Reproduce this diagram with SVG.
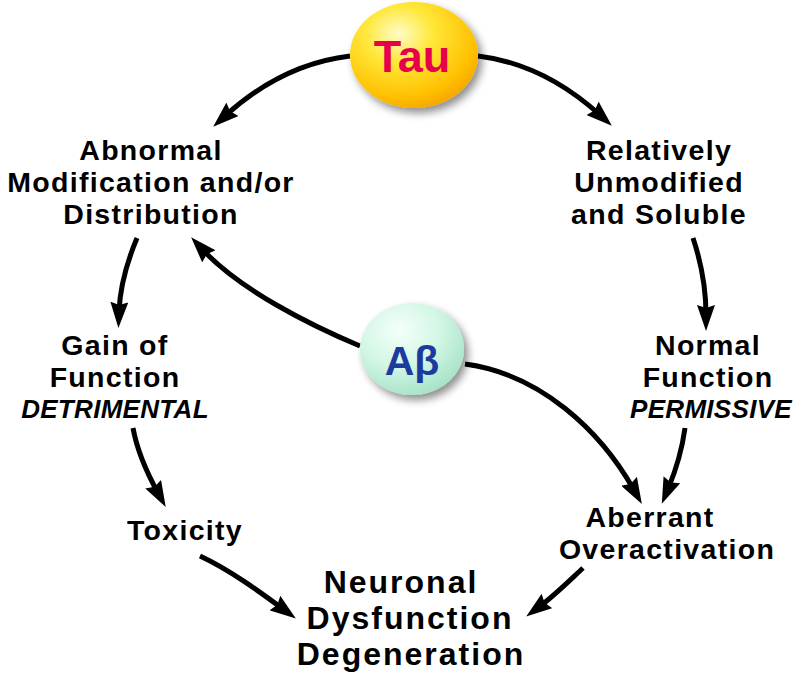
<svg xmlns="http://www.w3.org/2000/svg" width="800" height="674" viewBox="0 0 800 674">
<style>
.lbl{font-family:"Liberation Sans",Arial,sans-serif;font-weight:bold;font-size:28.5px;letter-spacing:1.3px;fill:#000;text-anchor:middle}
.it{font-style:italic;font-size:26px;letter-spacing:0.3px}
.big{font-size:32px;letter-spacing:2px}
.conn path{fill:none;stroke:#000;stroke-width:5;marker-end:url(#ah)}
</style>
<defs>
<marker id="ah" viewBox="0 0 26 18" markerUnits="userSpaceOnUse" markerWidth="26" markerHeight="18" refX="10" refY="9" orient="auto">
<path d="M0,0 L26,9 L0,18 L3,9 z" fill="#000"/>
</marker>
<radialGradient id="gTau" cx="0.38" cy="0.3" r="0.75">
<stop offset="0" stop-color="#fffcc8"/>
<stop offset="0.35" stop-color="#ffe83a"/>
<stop offset="0.8" stop-color="#ffc000"/>
<stop offset="1" stop-color="#f4a400"/>
</radialGradient>
<radialGradient id="gAb" cx="0.38" cy="0.3" r="0.75">
<stop offset="0" stop-color="#f4fff9"/>
<stop offset="0.5" stop-color="#d4f7e6"/>
<stop offset="1" stop-color="#a4e2c6"/>
</radialGradient>
<filter id="sh" x="-30%" y="-30%" width="160%" height="160%">
<feGaussianBlur in="SourceAlpha" stdDeviation="4"/>
<feOffset dx="4" dy="5" result="b"/>
<feComponentTransfer><feFuncA type="linear" slope="0.45"/></feComponentTransfer>
<feMerge><feMergeNode/><feMergeNode in="SourceGraphic"/></feMerge>
</filter>
</defs>
<g class="conn" id="connectors">
<path d="M350,56 C300,62 258,86 225,116"/>
<path d="M478,56 C528,62 568,86 600,115"/>
<path d="M137,238 C127,262 120,285 119,312"/>
<path d="M360,346 C310,325 240,290 202,249"/>
<path d="M133,428 C137,450 147,473 158,493"/>
<path d="M693,238 C701,262 706,288 706,315"/>
<path d="M465,364 C540,374 600,430 634,490"/>
<path d="M685,428 C682,450 676,470 668,489"/>
<path d="M200,556 C230,570 260,592 283,609"/>
<path d="M583,568 C570,580 555,595 539,607"/>
</g>
<g id="tau">
<ellipse cx="414" cy="55" rx="64" ry="53" fill="url(#gTau)" filter="url(#sh)"/>
<text x="412" y="72" style="font-family:'Liberation Sans',Arial,sans-serif;font-weight:bold;font-size:45px;fill:#e6004e;text-anchor:middle">Tau</text>
</g>
<g id="abeta">
<ellipse cx="412" cy="349" rx="52" ry="46" fill="url(#gAb)" filter="url(#sh)"/>
<text x="412" y="375" style="font-family:'Liberation Sans',Arial,sans-serif;font-weight:bold;font-size:41px;fill:#1b3c9e;text-anchor:middle">Aβ</text>
</g>
<g id="abnormal">
<text class="lbl"><tspan x="151" y="160">Abnormal</tspan><tspan x="151" y="192">Modification and/or</tspan><tspan x="151" y="224">Distribution</tspan></text>
</g>
<g id="relatively">
<text class="lbl"><tspan x="659" y="160">Relatively</tspan><tspan x="659" y="192">Unmodified</tspan><tspan x="659" y="224">and Soluble</tspan></text>
</g>
<g id="gain">
<text class="lbl"><tspan x="115" y="355">Gain of</tspan><tspan x="115" y="387">Function</tspan><tspan class="it" x="115" y="418">DETRIMENTAL</tspan></text>
</g>
<g id="normal">
<text class="lbl"><tspan x="708" y="355">Normal</tspan><tspan x="708" y="387">Function</tspan><tspan class="it" x="711" y="418">PERMISSIVE</tspan></text>
</g>
<g id="toxicity">
<text class="lbl" x="185" y="540">Toxicity</text>
</g>
<g id="aberrant">
<text class="lbl"><tspan x="650" y="527">Aberrant</tspan><tspan x="667" y="559">Overactivation</tspan></text>
</g>
<g id="neuronal">
<text class="lbl big"><tspan x="401" y="593">Neuronal</tspan><tspan x="410" y="629">Dysfunction</tspan><tspan x="411" y="665">Degeneration</tspan></text>
</g>
</svg>
